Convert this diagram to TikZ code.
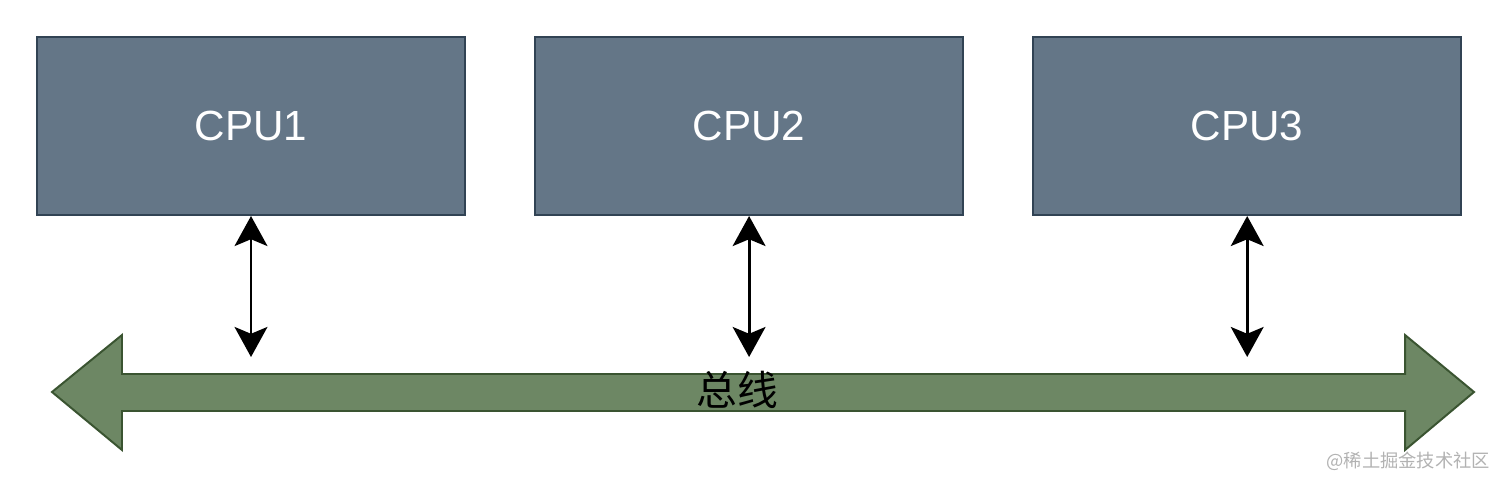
\documentclass[tikz,border=0pt]{standalone}
\usepackage{fontspec}
\setmainfont{Liberation Sans}
\newfontfamily\cjk{Noto Sans CJK SC}
\usetikzlibrary{arrows.meta, positioning}
\definecolor{cpufill}{HTML}{647687}
\definecolor{cpuline}{HTML}{314354}
\definecolor{busfill}{HTML}{6D8764}
\definecolor{busline}{HTML}{3A5431}

\begin{document}
\begin{tikzpicture}[x=0.025cm, y=-0.025cm,
	cpubox/.style={draw=cpuline, fill=cpufill, line width=1.4pt, minimum width=10.7cm, minimum height=4.45cm, text=white, font=\fontsize{30}{30}\selectfont},
	link/.style={line width=2pt, {Stealth[length=0.75cm, width=0.82cm, inset=0.17cm]}-{Stealth[length=0.75cm, width=0.82cm, inset=0.17cm]}}]
	\useasboundingbox (0,0) rectangle (1512,487);
	
	% --- CPUs ---
	\node[cpubox] (cpu1) at (251,126) {CPU1};
	\node[cpubox, right=1.7cm of cpu1] (cpu2) {CPU2};
	\node[cpubox, right=1.7cm of cpu2] (cpu3) {CPU3};
	
	% --- Bus ---
	\filldraw[fill=busfill, draw=busline, line width=1.4pt]
		(52,392) -- (122,335) -- (122,374) -- (1405,374) -- (1405,335) -- (1474,392)
		-- (1405,450) -- (1405,411) -- (122,411) -- (122,450) -- cycle;
	\node[font=\cjk\fontsize{29}{29}\selectfont] (bus) at (737,390) {总线};
	
	% --- Verbindungen ---
	\foreach \c in {cpu1,cpu2,cpu3}{
		\coordinate (\c-end) at (\c.south |- 0,357);
		\draw[link] (\c.south) -- (\c-end);
	}
	
	\node[text=black!30, font=\cjk\fontsize{13}{13}\selectfont, anchor=east] (mark) at (1495,461) {@稀土掘金技术社区};
	
\end{tikzpicture}
\end{document}
